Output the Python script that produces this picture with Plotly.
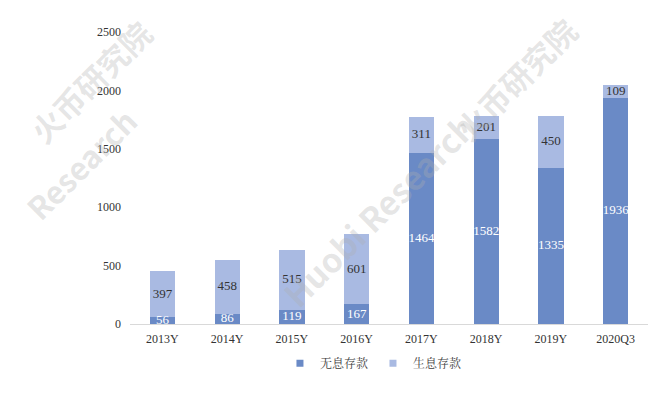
import plotly.graph_objects as go

categories = ["2013Y", "2014Y", "2015Y", "2016Y", "2017Y", "2018Y", "2019Y", "2020Q3"]
non_interest = [56, 86, 119, 167, 1464, 1582, 1335, 1936]
interest = [397, 458, 515, 601, 311, 201, 450, 109]
series_names = ["无息存款", "生息存款"]

dark_blue = "#6A8AC6"
light_blue = "#A9BAE2"
serif = "Liberation Serif, Times New Roman, serif"

fig = go.Figure()
for vals, name, col in [(non_interest, series_names[0], dark_blue),
                        (interest, series_names[1], light_blue)]:
    fig.add_trace(go.Bar(
        x=categories, y=vals, name=name, legendgroup=name, showlegend=False,
        marker=dict(color=col, line=dict(width=0)),
    ))

# value labels centred in each stacked segment
fig.add_trace(go.Scatter(
    x=categories, y=[v / 2 for v in non_interest], mode="text",
    text=[str(v) for v in non_interest], showlegend=False, hoverinfo="skip",
    textfont=dict(family=serif, size=13, color="white"), cliponaxis=False,
))
fig.add_trace(go.Scatter(
    x=categories, y=[a + b / 2 for a, b in zip(non_interest, interest)], mode="text",
    text=[str(v) for v in interest], showlegend=False, hoverinfo="skip",
    textfont=dict(family=serif, size=13, color="#333333"), cliponaxis=False,
))

# small square legend keys
for name, col in [(series_names[0], dark_blue), (series_names[1], light_blue)]:
    fig.add_trace(go.Scatter(
        x=[None], y=[None], mode="markers", name=name, legendgroup=name,
        marker=dict(symbol="square", size=7, color=col),
    ))

# faint rotated watermark text
wm = "rgba(175,175,175,0.32)"
for x, y, s, size in [
    (-0.077, 0.83, "<b>火币研究院</b>", 31),
    (-0.095, 0.55, "<b>Research</b>", 31),
    (0.745, 0.84, "<b>火币研究院</b>", 31),
    (0.48, 0.39, "<b>Huobi Research</b>", 33),
]:
    fig.add_annotation(xref="paper", yref="paper", x=x, y=y, text=s, showarrow=False,
                       xanchor="center", yanchor="middle", textangle=-45,
                       font=dict(family="Noto Sans CJK SC, Roboto, sans-serif", size=size, color=wm))

fig.update_layout(
    barmode="stack",
    bargap=0.61,
    width=648, height=404,
    margin=dict(l=130, r=0, t=32, b=80),
    plot_bgcolor="white", paper_bgcolor="white",
    font=dict(family=serif, size=12, color="#333333"),
    xaxis=dict(showgrid=False, showline=True, linecolor="#D9D9D9", linewidth=1,
               ticks="", ticklabelstandoff=4,
               tickfont=dict(family=serif, size=12, color="#333333")),
    yaxis=dict(range=[0, 2500], dtick=500, showgrid=False, showline=False, zeroline=False,
               ticks="", ticklabelstandoff=8,
               tickfont=dict(family=serif, size=12, color="#333333")),
    legend=dict(orientation="h", x=0.47, xanchor="center", y=-0.085, yanchor="top",
                font=dict(family="Noto Serif CJK SC, Noto Sans CJK SC, serif", size=12, color="#404040"),
                itemwidth=30, traceorder="normal"),
)

fig.write_html("out.html")
